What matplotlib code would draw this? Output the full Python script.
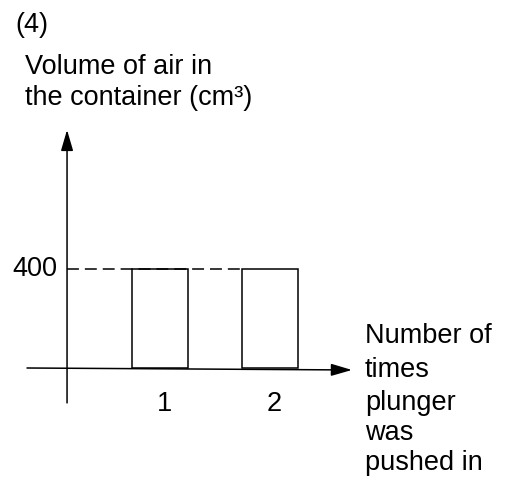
import matplotlib.pyplot as plt

# times the plunger was pushed in, and the air volume after each push (cm3)
times_pushed = [1, 2]
volume_cm3 = [400, 400]
tick_labels = ["1", "2"]
level_label = "400"

plt.rcParams["font.family"] = ["Liberation Sans", "DejaVu Sans"]
FS = 19.5
W, H = 510, 479

fig = plt.figure(figsize=(W / 100, H / 100), dpi=100)
ax = fig.add_axes([0, 0, 1, 1])
ax.set_xlim(-0.4545, 4.1818)
ax.set_ylim(-448.5, 1486.9)
ax.axis("off")

bar_w = 0.51
y_axis_x = 0.155

# bars
ax.bar(times_pushed, volume_cm3, width=bar_w, fill=False,
       edgecolor="black", linewidth=1.1, zorder=3)

# dashed guide at the 400 level, from the y axis to the second bar
ax.plot([y_axis_x, times_pushed[-1] - bar_w / 2], [volume_cm3[0]] * 2,
        color="black", linewidth=1.1, dashes=(7.8, 3.9), zorder=2)

# axes drawn as arrows
arrow = dict(arrowstyle="-|>,head_length=0.75,head_width=0.22",
             color="black", linewidth=1.1, mutation_scale=17,
             shrinkA=0, shrinkB=0)
ax.annotate("", xy=(y_axis_x, 962), xytext=(y_axis_x, -141), arrowprops=arrow)
ax.annotate("", xy=(2.745, -8), xytext=(-0.209, 0), arrowprops=arrow)

# tick labels
for x, lab in zip(times_pushed, tick_labels):
    ax.text(x + 0.04, -145, lab, fontsize=FS, ha="center", va="center")
ax.text(0.064, volume_cm3[0], level_label, fontsize=FS, ha="right", va="center")


def px_text(x, y, s):
    fig.text(x / W, 1 - y / H, s, fontsize=FS, ha="left", va="baseline")


px_text(15, 32, "(4)")
px_text(25, 74, "Volume of air in")
px_text(25, 105, "the container (cm³)")

for y, s in zip([343, 377, 410, 440, 470],
                ["Number of", "times", "plunger", "was", "pushed in"]):
    px_text(365, y, s)

fig.savefig("out.png", dpi=100, facecolor="white")
